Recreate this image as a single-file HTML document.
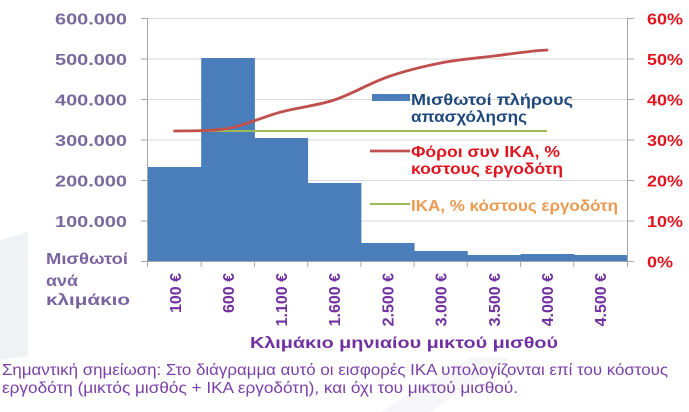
<!DOCTYPE html>
<html>
<head>
<meta charset="utf-8">
<style>
  html, body { margin:0; padding:0; background:#ffffff; }
  body { width:689px; height:412px; overflow:hidden; }
  svg { display:block; }
  text { font-family: "Liberation Sans", "Noto Sans CJK SC", sans-serif; }
</style>
</head>
<body>
<svg width="689" height="412" viewBox="0 0 689 412" xmlns="http://www.w3.org/2000/svg">
  <rect x="0" y="0" width="689" height="412" fill="#ffffff"/>
  <polygon points="0,240 28,232 28,356 0,360" fill="#f0f1f5"/>
  <polygon points="380,412 470,358 510,358 430,412" fill="#f6f6f9"/>

  <!-- gridlines -->
  <g stroke="#d9d9d9" stroke-width="1">
    <line x1="148" y1="18.5" x2="627" y2="18.5"/>
    <line x1="148" y1="59" x2="627" y2="59"/>
    <line x1="148" y1="99.5" x2="627" y2="99.5"/>
    <line x1="148" y1="140" x2="627" y2="140"/>
    <line x1="148" y1="180.5" x2="627" y2="180.5"/>
    <line x1="148" y1="221" x2="627" y2="221"/>
  </g>

  <!-- bars -->
  <g fill="#4a7ebb">
    <rect x="148" y="167" width="53.7" height="94"/>
    <rect x="201.2" y="58" width="53.7" height="203"/>
    <rect x="254.4" y="138" width="53.7" height="123"/>
    <rect x="307.7" y="183" width="53.7" height="78"/>
    <rect x="360.9" y="243" width="53.7" height="18"/>
    <rect x="414.1" y="251" width="53.7" height="10"/>
    <rect x="467.3" y="255" width="53.7" height="6"/>
    <rect x="520.6" y="254" width="53.7" height="7"/>
    <rect x="573.8" y="255" width="53.2" height="6"/>
  </g>

  <!-- axes -->
  <g stroke="#a6a6a6" stroke-width="1">
    <line x1="147.5" y1="18" x2="147.5" y2="261"/>
    <line x1="627.5" y1="18" x2="627.5" y2="261"/>
    <line x1="147" y1="261.5" x2="628" y2="261.5"/>
    <line x1="141" y1="18.5" x2="148" y2="18.5"/>
    <line x1="141" y1="59" x2="148" y2="59"/>
    <line x1="141" y1="99.5" x2="148" y2="99.5"/>
    <line x1="141" y1="140" x2="148" y2="140"/>
    <line x1="141" y1="180.5" x2="148" y2="180.5"/>
    <line x1="141" y1="221" x2="148" y2="221"/>
    <line x1="141" y1="261.5" x2="148" y2="261.5"/>
    <line x1="627" y1="18.5" x2="634" y2="18.5"/>
    <line x1="627" y1="59" x2="634" y2="59"/>
    <line x1="627" y1="99.5" x2="634" y2="99.5"/>
    <line x1="627" y1="140" x2="634" y2="140"/>
    <line x1="627" y1="180.5" x2="634" y2="180.5"/>
    <line x1="627" y1="221" x2="634" y2="221"/>
    <line x1="627" y1="261.5" x2="634" y2="261.5"/>
    <line x1="147.5" y1="261" x2="147.5" y2="267"/>
    <line x1="201.2" y1="261" x2="201.2" y2="267"/>
    <line x1="254.4" y1="261" x2="254.4" y2="267"/>
    <line x1="307.7" y1="261" x2="307.7" y2="267"/>
    <line x1="360.9" y1="261" x2="360.9" y2="267"/>
    <line x1="414.1" y1="261" x2="414.1" y2="267"/>
    <line x1="467.3" y1="261" x2="467.3" y2="267"/>
    <line x1="520.6" y1="261" x2="520.6" y2="267"/>
    <line x1="573.8" y1="261" x2="573.8" y2="267"/>
    <line x1="627.5" y1="261" x2="627.5" y2="267"/>
  </g>

  <!-- green line -->
  <line x1="174.6" y1="131" x2="547" y2="131" stroke="#9bbb59" stroke-width="2"/>
  <!-- red line -->
  <path d="M174.6,131 C183.5,130.6 210.1,131.7 227.8,128.5 C245.5,125.3 263.3,116.75 281,112 C298.7,107.25 316.5,105.8 334.2,100 C351.9,94.17 369.7,83.17 387.4,77 C405.1,70.83 422.9,66.5 440.6,63 C458.3,59.5 476.1,58.17 493.8,56 C511.5,53.83 529.3,51 547,50"
        fill="none" stroke="#c0504d" stroke-width="2.8" stroke-linecap="round"/>

  <!-- left axis labels -->
  <g font-size="16" font-weight="bold" fill="#786a9c">
    <text x="55" y="24.5" textLength="72" lengthAdjust="spacingAndGlyphs">600.000</text>
    <text x="55" y="65" textLength="72" lengthAdjust="spacingAndGlyphs">500.000</text>
    <text x="55" y="105.5" textLength="72" lengthAdjust="spacingAndGlyphs">400.000</text>
    <text x="55" y="146" textLength="72" lengthAdjust="spacingAndGlyphs">300.000</text>
    <text x="55" y="186.5" textLength="72" lengthAdjust="spacingAndGlyphs">200.000</text>
    <text x="55" y="227" textLength="72" lengthAdjust="spacingAndGlyphs">100.000</text>
  </g>

  <!-- right axis labels -->
  <g font-size="16" font-weight="bold" fill="#e0141e">
    <text x="647" y="24.5" textLength="36" lengthAdjust="spacingAndGlyphs">60%</text>
    <text x="647" y="65" textLength="36" lengthAdjust="spacingAndGlyphs">50%</text>
    <text x="647" y="105.5" textLength="36" lengthAdjust="spacingAndGlyphs">40%</text>
    <text x="647" y="146" textLength="36" lengthAdjust="spacingAndGlyphs">30%</text>
    <text x="647" y="186.5" textLength="36" lengthAdjust="spacingAndGlyphs">20%</text>
    <text x="647" y="227" textLength="36" lengthAdjust="spacingAndGlyphs">10%</text>
    <text x="647" y="267.5" textLength="26" lengthAdjust="spacingAndGlyphs">0%</text>
  </g>

  <!-- left title -->
  <g font-size="16" font-weight="bold" fill="#7a64a0">
    <text x="46" y="264" textLength="82" lengthAdjust="spacingAndGlyphs">Μισθωτοί</text>
    <text x="46" y="286" textLength="32" lengthAdjust="spacingAndGlyphs">ανά</text>
    <text x="46" y="305" textLength="84" lengthAdjust="spacingAndGlyphs">κλιμάκιο</text>
  </g>

  <!-- x category labels (rotated) -->
  <g font-size="16" font-weight="bold" fill="#7030a0" text-anchor="end">
    <text transform="translate(181,273) rotate(-90)">100 €</text>
    <text transform="translate(234,273) rotate(-90)">600 €</text>
    <text transform="translate(287,273) rotate(-90)">1.100 €</text>
    <text transform="translate(340,273) rotate(-90)">1.600 €</text>
    <text transform="translate(393.5,273) rotate(-90)">2.500 €</text>
    <text transform="translate(446.5,273) rotate(-90)">3.000 €</text>
    <text transform="translate(500,273) rotate(-90)">3.500 €</text>
    <text transform="translate(553,273) rotate(-90)">4.000 €</text>
    <text transform="translate(606,273) rotate(-90)">4.500 €</text>
  </g>

  <!-- x axis title -->
  <text x="250" y="348" font-size="16" font-weight="bold" fill="#7030a0" textLength="308" lengthAdjust="spacingAndGlyphs">Κλιμάκιο μηνιαίου μικτού μισθού</text>

  <!-- legend -->
  <rect x="372" y="94" width="38" height="7" fill="#4a7ebb"/>
  <g font-size="16" font-weight="bold" fill="#1f497d">
    <text x="411" y="105" textLength="162" lengthAdjust="spacingAndGlyphs">Μισθωτοί πλήρους</text>
    <text x="411" y="122" textLength="116" lengthAdjust="spacingAndGlyphs">απασχόλησης</text>
  </g>
  <line x1="370" y1="151" x2="410" y2="151" stroke="#c0504d" stroke-width="2.8"/>
  <g font-size="16" font-weight="bold" fill="#e0141e">
    <text x="411" y="157" textLength="149" lengthAdjust="spacingAndGlyphs">Φόροι συν ΙΚΑ, %</text>
    <text x="411" y="174" textLength="152" lengthAdjust="spacingAndGlyphs">κοστους εργοδότη</text>
  </g>
  <line x1="370" y1="204" x2="410" y2="204" stroke="#9bbb59" stroke-width="2"/>
  <text x="411" y="211" font-size="16" font-weight="bold" fill="#eb9a52" textLength="207" lengthAdjust="spacingAndGlyphs">ΙΚΑ, % κόστους εργοδότη</text>

  <!-- bottom note -->
  <g font-size="16" fill="#7a3fa8">
    <text x="2" y="375" textLength="666" lengthAdjust="spacingAndGlyphs">Σημαντική σημείωση: Στο διάγραμμα αυτό οι εισφορές ΙΚΑ υπολογίζονται επί του κόστους</text>
    <text x="2" y="393" textLength="516" lengthAdjust="spacingAndGlyphs">εργοδότη (μικτός μισθός + ΙΚΑ εργοδότη), και όχι του μικτού μισθού.</text>
  </g>
</svg>
</body>
</html>
